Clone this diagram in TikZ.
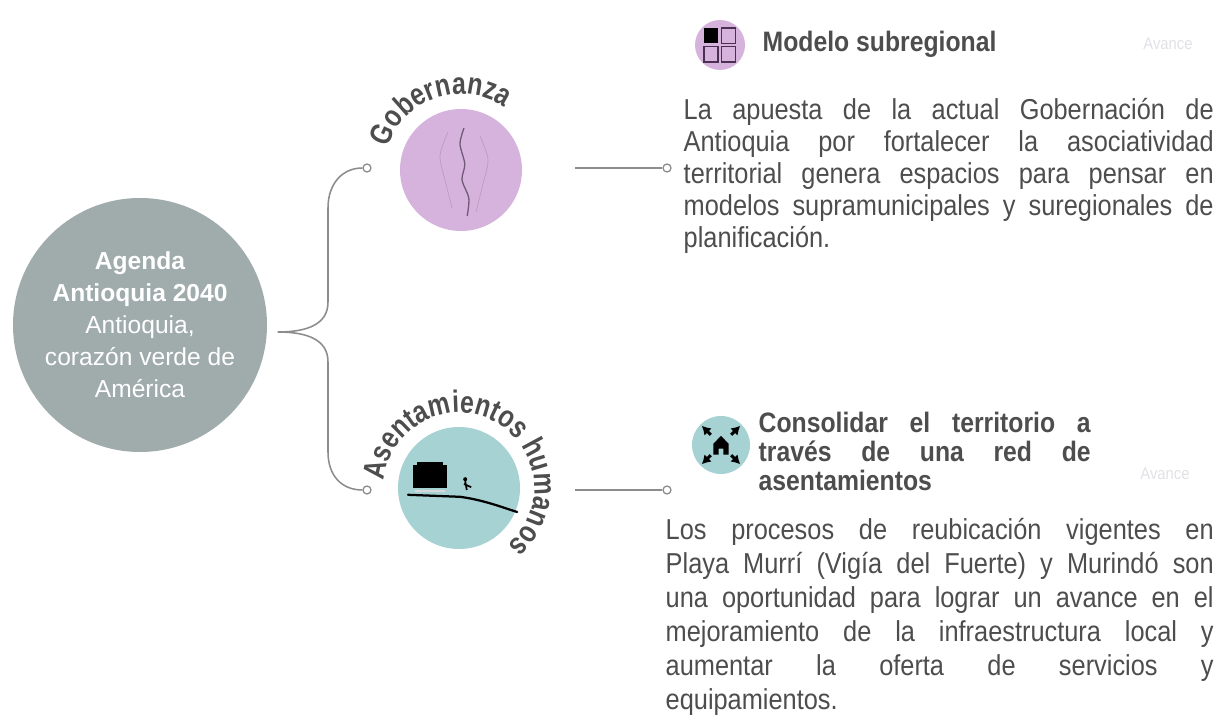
\documentclass[tikz,border=0pt]{standalone}
\usepackage{fontspec}
\setmainfont{Liberation Sans}
\newfontfamily\narrowfont{Liberation Sans}[FakeStretch=0.88]
\newfontfamily\tightfont{Liberation Sans}[FakeStretch=0.8]
\usetikzlibrary{arrows.meta, positioning, calc, decorations.text}
\definecolor{chub}{HTML}{A0ABAB}
\definecolor{cgob}{HTML}{D6B3DD}
\definecolor{casen}{HTML}{A6D2D3}
\definecolor{cink}{HTML}{4D4D4D}
\definecolor{cline}{HTML}{8C8C8C}
\definecolor{cfaint}{HTML}{E2E0E6}
\definecolor{cplum}{HTML}{4A2F52}
\newcommand{\arcfont}{\tightfont\bfseries\fontsize{22}{22}\selectfont}
\tikzset{
  every picture/.style={line width=1pt},
  disc/.style={circle, fill=#1, inner sep=0pt, minimum size=3.05cm},
  badge/.style={circle, fill=#1, inner sep=0pt},
  pin/.style={circle, draw=cline, fill=white, line width=0.9pt, inner sep=0pt, minimum size=0.2cm},
  link/.style={draw=cline, line width=1.1pt},
  head/.style={text=cink, inner sep=0pt, font=\narrowfont\bfseries\fontsize{20}{20.6}\selectfont},
  para/.style={text=cink, inner sep=0pt, align=justify, font=\narrowfont\fontsize{20.5}{22.8}\selectfont},
  avance/.style={text=cfaint, inner sep=0pt, font=\narrowfont\fontsize{12}{12}\selectfont},
  arclabel/.style={decorate, decoration={text along path, text align=center, text color=cink, text={|\arcfont|#1}}},
}

\begin{document}
\begin{tikzpicture}
  \useasboundingbox (0,0) rectangle (30.475,-18.05);

  % central agenda
  \node[circle, fill=chub, minimum size=6.35cm, inner sep=0pt, text=white, align=center,
        font=\fontsize{17.5}{22.8}\selectfont] (hub) at (3.5,-8.125)
    {\textbf{Agenda}\\\textbf{Antioquia 2040}\\Antioquia,\\corazón verde de\\América};

  % the two topics
  \node[disc=cgob] (gob) at (11.525,-4.25) {};
  \node[disc=casen] (asen) at (11.475,-12.2) {};
  \path[arclabel=Gobernanza] (gob.center) ++(160:1.9) arc[start angle=160, end angle=58, radius=1.9];
  \path[arclabel=Asentamientos humanos] (asen.center) ++(174:1.88) arc[start angle=174, end angle=-49, radius=1.88];

  % map of the department
  \draw[cgob!75!black, line width=0.5pt, opacity=0.5] plot[smooth] coordinates
    {(11.2,-3.3) (11.0,-3.9) (11.15,-4.6) (11.3,-5.2)};
  \draw[cgob!75!black, line width=0.5pt, opacity=0.5] plot[smooth] coordinates
    {(12.0,-3.4) (12.2,-4.0) (12.05,-4.7) (11.9,-5.3)};
  \draw[cplum!80, line width=0.9pt] plot[smooth] coordinates
    {(11.6,-3.2) (11.5,-3.6) (11.62,-4.1) (11.55,-4.5) (11.72,-4.95) (11.68,-5.4)};

  % stilt house by the river
  \fill[black] (10.33,-11.62) rectangle (11.17,-12.2);
  \fill[black] (10.42,-11.55) rectangle (11.08,-11.62);
  \fill[white!85!black] (10.38,-12.24) rectangle (11.12,-12.3);
  \draw[black, line width=1.6pt, line cap=round] (10.2,-12.37) -- (11.5,-12.42)
    .. controls (12.1,-12.5) and (12.6,-12.7) .. (12.93,-12.8);
  \fill[black] (11.63,-11.98) circle (0.05);
  \draw[black, line width=1.2pt] (11.63,-12.03) -- (11.67,-12.25) (11.6,-12.1) -- (11.78,-12.18);

  % brace from the agenda to the topics
  \coordinate (fork) at ($(hub.east)+(0.25,-0.175)$);
  \node[pin] (gobin) at (9.175,-4.2) {};
  \node[pin] (asenin) at (9.175,-12.25) {};
  \draw[link] (gobin.west) .. controls (8.55,-4.2) and (8.2,-4.6) .. (8.2,-5.2) -- (8.2,-7.55)
    .. controls (8.2,-8.1) and (7.7,-8.3) .. (fork)
    .. controls (7.7,-8.3) and (8.2,-8.5) .. (8.2,-9.05) -- (8.2,-11.3)
    .. controls (8.2,-11.9) and (8.55,-12.25) .. (asenin.west);

  % leaders towards the texts
  \node[pin] (gobout) at (16.675,-4.2) {};
  \node[pin] (asenout) at (16.675,-12.25) {};
  \coordinate (gobstart) at (14.375,-4.2);
  \coordinate (asenstart) at (14.375,-12.25);
  \draw[link] (gobstart) -- (gobout.west);
  \draw[link] (asenstart) -- (asenout.west);

  % modelo subregional
  \node[badge=cgob, minimum size=1.25cm] (gobicon) at (18.0,-1.125) {};
  \fill[black] ($(gobicon)+(-0.4,0.42)$) rectangle ($(gobicon)+(-0.05,0.04)$);
  \draw[cplum, line width=1.2pt] ($(gobicon)+(0.04,0.42)$) rectangle ($(gobicon)+(0.39,0.04)$);
  \draw[cplum, line width=1.2pt] ($(gobicon)+(-0.4,-0.04)$) rectangle ($(gobicon)+(-0.05,-0.42)$);
  \draw[cplum, line width=1.2pt] ($(gobicon)+(0.04,-0.04)$) rectangle ($(gobicon)+(0.39,-0.42)$);
  \node[head, anchor=base west] (gobhead) at (19.05,-1.3) {Modelo subregional};
  \node[avance] (gobav) at (29.2,-1.1) {Avance};
  \node[para, text width=13.25cm, anchor=north west] (gobtext) at (17.075,-2.43)
    {La apuesta de la actual Gobernación de\linebreak
     Antioquia por fortalecer la asociatividad\linebreak
     territorial genera espacios para pensar en\linebreak
     modelos supramunicipales y suregionales de\linebreak
     planificación.};

  % red de asentamientos
  \node[badge=casen, minimum size=1.45cm] (asenicon) at (18.025,-11.125) {};
  \fill[black] ($(asenicon)+(-0.19,-0.24)$) -- ++(0,0.27) -- ++(0.19,0.2) -- ++(0.19,-0.2)
    -- ++(0,-0.27) -- ++(-0.13,0) -- ++(0,0.15) -- ++(-0.12,0) -- ++(0,-0.15) -- cycle;
  \foreach \a in {45,135,225,315}
    \draw[black, line width=2.2pt, -{Latex[length=2.2mm, width=2.6mm]}]
      ($(asenicon)+(\a:0.36)$) -- ($(asenicon)+(\a:0.68)$);
  \node[head, text width=8.3cm, align=justify, anchor=north west] (asenhead) at (18.95,-10.28)
    {Consolidar el territorio a\linebreak través de una red de\linebreak asentamientos};
  \node[avance] (asenav) at (29.125,-11.85) {Avance};
  \node[para, text width=13.7cm, anchor=north west, font=\narrowfont\fontsize{20.5}{24.2}\selectfont]
    (asentext) at (16.625,-12.93)
    {Los procesos de reubicación vigentes en\linebreak
     Playa Murrí (Vigía del Fuerte) y Murindó son\linebreak
     una oportunidad para lograr un avance en el\linebreak
     mejoramiento de la infraestructura local y\linebreak
     aumentar la oferta de servicios y\linebreak
     equipamientos.};
\end{tikzpicture}
\end{document}
